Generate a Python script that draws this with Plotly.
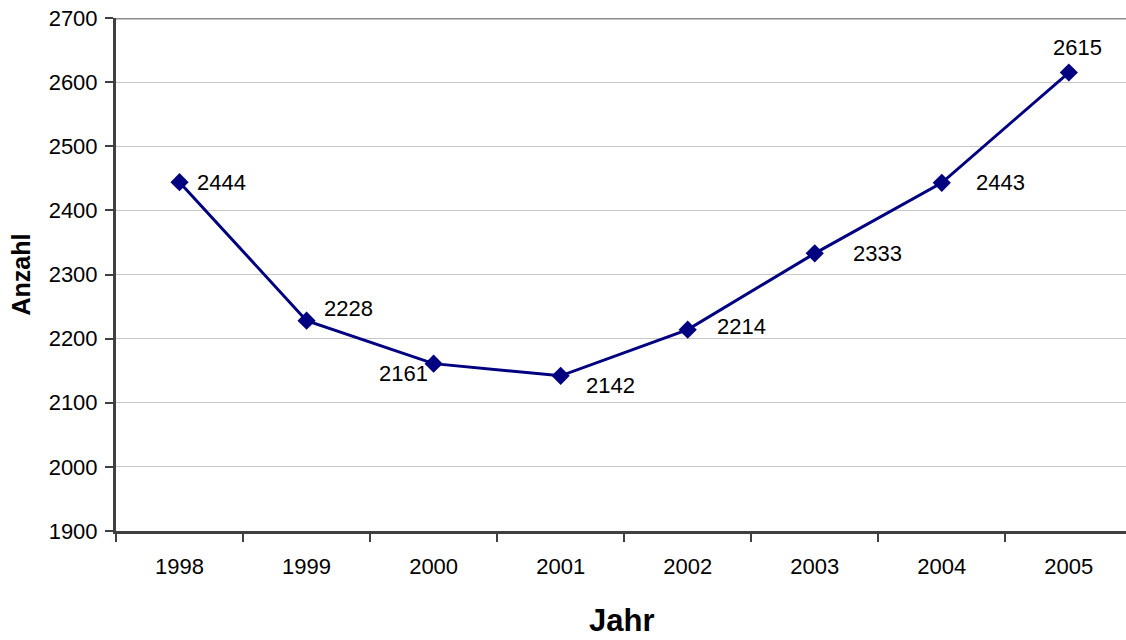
import plotly.graph_objects as go

# Annual counts
years = ["1998", "1999", "2000", "2001", "2002", "2003", "2004", "2005"]
counts = [2444, 2228, 2161, 2142, 2214, 2333, 2443, 2615]
y_ticks = [1900, 2000, 2100, 2200, 2300, 2400, 2500, 2600, 2700]

# Pixel offsets of each value label relative to its marker (dx, dy)
label_offsets = [(42, 0), (42, 12), (-30, -10), (50, -10),
                 (54, 3), (63, 0), (59, 0), (9, 25)]

FONT = "Liberation Sans, Arial, sans-serif"
NAVY = "#000080"

fig = go.Figure()
fig.add_trace(go.Scatter(
    x=years, y=counts, mode="lines+markers",
    line=dict(color=NAVY, width=3),
    marker=dict(symbol="diamond", size=14, color=NAVY),
    hoverinfo="skip", showlegend=False,
))

# Value labels (category index keeps the year strings from being read as numbers)
for i, (val, (dx, dy)) in enumerate(zip(counts, label_offsets)):
    fig.add_annotation(x=i, y=val, text=str(val), showarrow=False,
                       xshift=dx, yshift=dy,
                       font=dict(family=FONT, size=22, color="#000000"))

# Axis titles
fig.add_annotation(xref="paper", yref="paper", x=0, y=0.5, xshift=-96,
                   text="<b>Anzahl</b>", textangle=-90, showarrow=False,
                   xanchor="center", yanchor="middle",
                   font=dict(family=FONT, size=25, color="#000000"))
fig.add_annotation(xref="paper", yref="paper", x=0.5, y=0, yshift=-89,
                   text="<b>Jahr</b>", showarrow=False,
                   xanchor="center", yanchor="middle",
                   font=dict(family=FONT, size=31, color="#000000"))

# Grey frame line along the top of the plot area
fig.add_shape(type="line", xref="paper", yref="y", x0=0, x1=1,
              y0=2700, y1=2700, line=dict(color="#8c8c8c", width=3))

fig.update_layout(
    width=1126, height=640,
    margin=dict(l=116, r=0, t=18, b=109),
    paper_bgcolor="white", plot_bgcolor="white",
    font=dict(family=FONT, size=22, color="#000000"),
    xaxis=dict(type="category", range=[-0.5, 7.45],
               tickson="boundaries", ticks="outside", ticklen=8,
               tickcolor="#404040", tickwidth=2,
               showline=True, linecolor="#404040", linewidth=3,
               showgrid=False, zeroline=False, ticklabelstandoff=14,
               tickfont=dict(family=FONT, size=22)),
    yaxis=dict(range=[1900, 2700], tickvals=y_ticks,
               ticks="outside", ticklen=8, tickcolor="#404040", tickwidth=2,
               showline=True, linecolor="#404040", linewidth=3,
               showgrid=True, gridcolor="#c8c8c8", gridwidth=1,
               zeroline=False, ticklabelstandoff=3,
               tickfont=dict(family=FONT, size=22)),
)

fig.write_html("out.html")
